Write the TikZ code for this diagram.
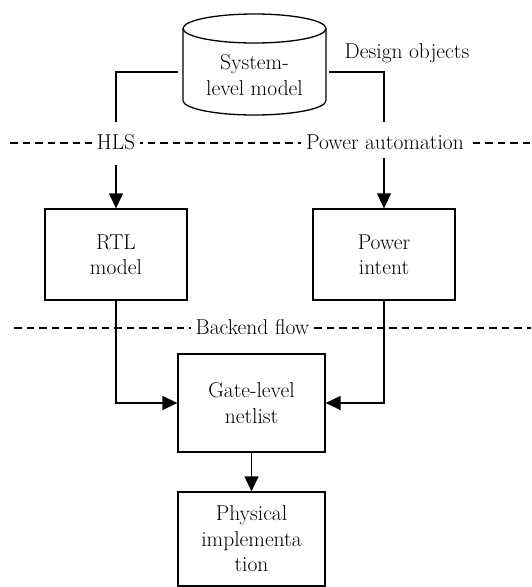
\documentclass[tikz,border=0pt]{standalone}
\usetikzlibrary{arrows.meta}
\begin{document}
\begin{tikzpicture}[x=1pt,y=1pt,
  every node/.style={font=\fontsize{21.5}{25.5}\selectfont, align=center, inner sep=0pt},
  box/.style={draw, line width=1.3pt, minimum width=142pt, minimum height=91pt},
  gbox/.style={draw, line width=1.3pt, minimum width=147pt},
  conn/.style={line width=1.3pt},
  arr/.style={line width=1.3pt, -{Triangle[length=15pt,width=14pt]}},
  sep/.style={line width=1.1pt, dash pattern=on 7.5pt off 5pt},
  lbl/.style={fill=white, inner xsep=5pt, inner ysep=2pt}]
\useasboundingbox (0,0) rectangle (531,-587);
% cylinder
\draw[line width=1.3pt] (183,-28.5) -- (183,-100.5) arc[start angle=180,end angle=360,x radius=71.5,y radius=14.5] -- (326,-28.5);
\draw[line width=1.3pt] (254.5,-28.5) ellipse[x radius=71.5, y radius=14.5];
\node (sys) at (254.5,-75) {System-\\level model};
\coordinate (sysL) at (178,-72);
\coordinate (sysR) at (329,-72);
\node[anchor=center] (dobj) at (407,-53) {Design objects};
% separators
\draw[sep] (10,-143) -- (531,-143);
\node[lbl] (hls) at (116,-142) {HLS};
\node[lbl] (pa) at (385,-142) {Power automation};
\draw[sep] (14,-328) -- (531,-328);
\node[lbl] (be) at (252.5,-327) {Backend flow};
% boxes
\node[box] (rtl) at (116,-254.5) {RTL\\model};
\node[box] (pwr) at (384,-254.5) {Power\\intent};
\node[gbox, minimum height=98pt] (gate) at (251.5,-403) {Gate-level\\netlist};
\node[gbox, minimum height=94pt] (phys) at (251.5,-539) {Physical\\implementa\\tion};
% connectors
\coordinate (l1) at (116,-122);
\coordinate (l2) at (116,-165);
\coordinate (r1) at (384,-122);
\coordinate (r2) at (384,-158);
\draw[conn] (sysL) -| (l1);
\draw[conn] (sysR) -| (r1);
\draw[arr] (l2) -- (rtl.north);
\draw[arr] (r2) -- (pwr.north);
\draw[arr] (rtl.south) |- (gate.west);
\draw[arr] (pwr.south) |- (gate.east);
\draw[arr] (gate.south) -- (phys.north);
\end{tikzpicture}
\end{document}
